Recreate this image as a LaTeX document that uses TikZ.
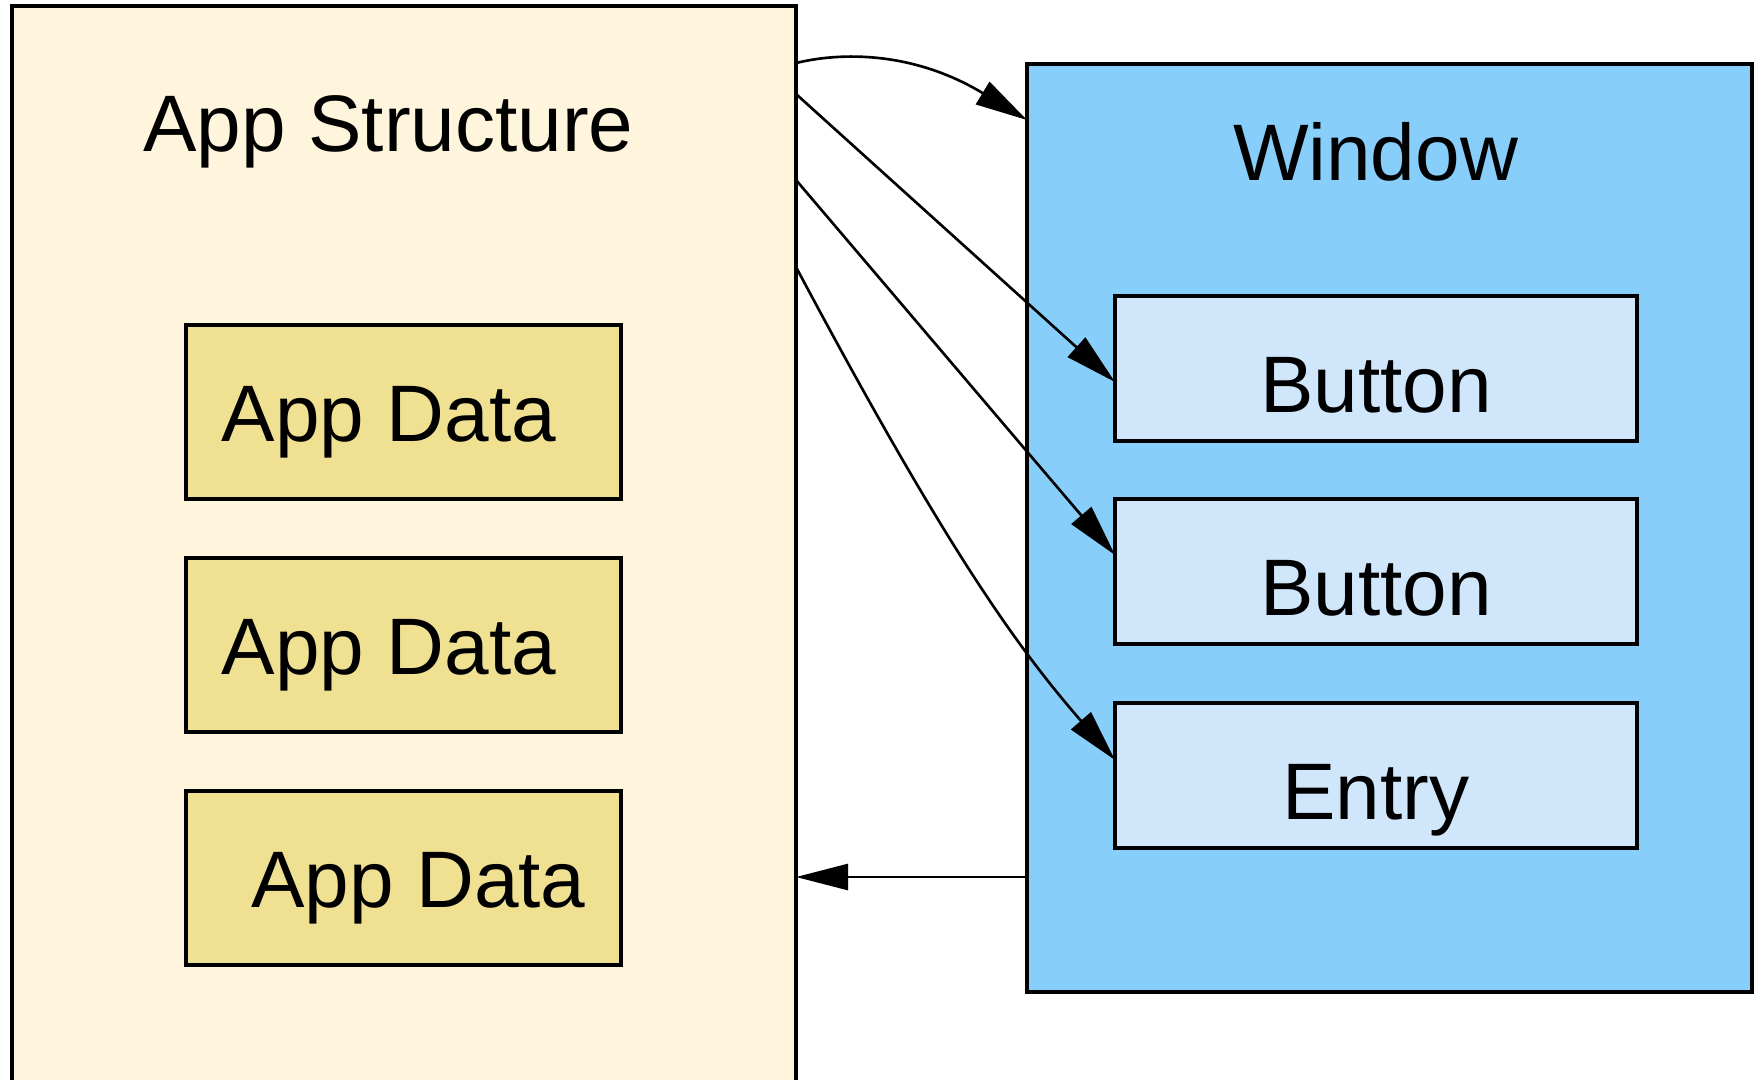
\documentclass[tikz,border=0pt]{standalone}
\usepackage{fontspec}
\setmainfont{Liberation Sans}
\usepackage{tikz}
\usetikzlibrary{positioning,arrows.meta}

\definecolor{appfill}{HTML}{FFF5DC}
\definecolor{datafill}{HTML}{F0E192}
\definecolor{winfill}{HTML}{87CEFA}
\definecolor{widgetfill}{HTML}{D0E6FB}

\tikzset{
    frame/.style={draw, rectangle, line width=0.9pt, outer sep=0pt, inner sep=0pt},
    databox/.style={frame, fill=datafill, minimum width=4.35cm, minimum height=1.74cm, text height=0.58cm, text depth=0pt},
    widgetbox/.style={frame, fill=widgetfill, minimum width=5.22cm, minimum height=1.45cm, text height=0.87cm, text depth=0pt},
    link/.style={->, line width=0.75pt}
}

\begin{document}
\begin{tikzpicture}[node distance=0.59cm, every node/.style={font=\fontsize{22.8pt}{27pt}\selectfont}, >={Triangle[length=0.52cm, width=0.26cm]}]
    \useasboundingbox (0,0) rectangle (17.6,-10.79);
    \clip (0,0) rectangle (17.6,-10.79);

    % Containers
    \node[frame, fill=appfill, minimum width=7.84cm, minimum height=10.9cm, anchor=north west] (app) at (0.12,-0.06) {};
    \node[frame, fill=winfill, minimum width=7.25cm, minimum height=9.28cm, anchor=north west] (win) at (10.27,-0.64) {};
    \node[anchor=base] (apptitle) at ([xshift=-0.155cm, yshift=-1.45cm]app.north) {App Structure};
    \node[anchor=base] (wintitle) at ([xshift=-0.14cm, yshift=-1.16cm]win.north) {Window};

    % Data nodes
    \node[databox] (data1) at (4.035,-4.12) {\hspace*{-0.29cm}App Data};
    \node[databox, below=of data1] (data2) {\hspace*{-0.29cm}App Data};
    \node[databox, below=of data2] (data3) {App Data\hspace*{-0.3cm}};

    % Widget nodes
    \node[widgetbox] (button1) at (13.76,-3.685) {Button};
    \node[widgetbox, below=0.58cm of button1] (button2) {Button};
    \node[widgetbox, below=of button2] (entry) {Entry};

    % Edges
    \draw[link] ([yshift=-0.57cm]app.north east) .. controls +(0.54,0.13) and +(-1.07,0.65) .. ([yshift=-0.56cm]win.north west);
    \draw[link] ([yshift=-0.88cm]app.north east) -- ([yshift=-0.135cm]button1.west);
    \draw[link] ([yshift=-1.74cm]app.north east) -- ([yshift=0.165cm]button2.west);
    \draw[link] ([yshift=-2.61cm]app.north east) .. controls +(1.50,-2.816) and +(-0.984,1.133) .. ([yshift=0.155cm]entry.west);
    \draw[link] ([yshift=1.15cm]win.south west) -- ([yshift=1.15cm]win.south west -| app.east);
\end{tikzpicture}
\end{document}
